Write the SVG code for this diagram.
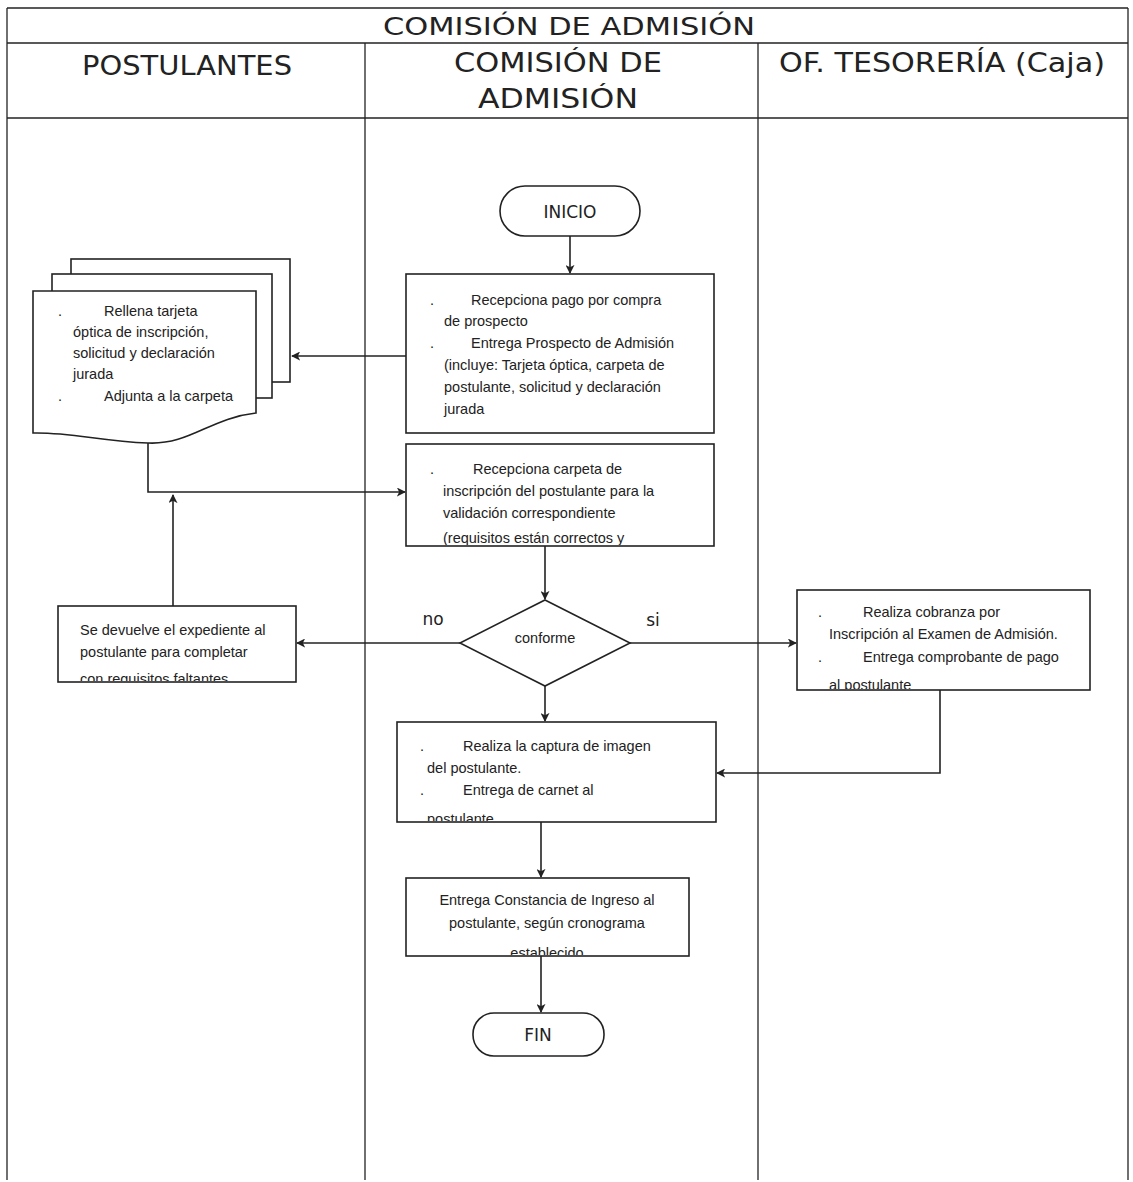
<svg xmlns="http://www.w3.org/2000/svg" width="1133" height="1182" viewBox="0 0 1133 1182">
  <style>
    .frame { fill: none; stroke: #222; stroke-width: 1.3; }
    .box { fill: #fff; stroke: #222; stroke-width: 1.6; }
    .edge { fill: none; stroke: #222; stroke-width: 1.6; }
    .hdr { font-family: "DejaVu Sans", "Liberation Sans", sans-serif; font-size: 27px; fill: #222; }
    .ttl { font-family: "DejaVu Sans", "Liberation Sans", sans-serif; font-size: 24px; fill: #222; }
    .t { font-family: "Liberation Sans", Arial, sans-serif; font-size: 14.5px; fill: #222; }
    .lbl { font-family: "DejaVu Sans", "Liberation Sans", sans-serif; font-size: 17px; fill: #222; }
  </style>
  <defs>
    <marker id="arr" viewBox="0 0 10 10" refX="9" refY="5" markerWidth="9" markerHeight="9" markerUnits="userSpaceOnUse" orient="auto">
      <path d="M0,0 L10,5 L0,10 L2.5,5 Z" fill="#222"/>
    </marker>
    <clipPath id="c2"><rect x="406" y="444" width="308" height="101"/></clipPath>
    <clipPath id="cdev"><rect x="58" y="606" width="238" height="75"/></clipPath>
    <clipPath id="ccob"><rect x="797" y="590" width="293" height="99"/></clipPath>
    <clipPath id="c3"><rect x="397" y="722" width="319" height="99"/></clipPath>
    <clipPath id="c4"><rect x="406" y="878" width="283" height="77"/></clipPath>
  </defs>

  <rect width="1133" height="1182" fill="#fff"/>

  <!-- swimlane frame -->
  <g id="lanes">
    <line class="frame" x1="7" y1="8" x2="1128" y2="8"/>
    <line class="frame" x1="7" y1="43" x2="1128" y2="43"/>
    <line class="frame" x1="7" y1="118" x2="1128" y2="118"/>
    <line class="frame" x1="7" y1="8" x2="7" y2="1180"/>
    <line class="frame" x1="1128" y1="8" x2="1128" y2="1180"/>
    <line class="frame" x1="365" y1="43" x2="365" y2="1180"/>
    <line class="frame" x1="758" y1="43" x2="758" y2="1180"/>
    <text class="ttl" x="569" y="35" text-anchor="middle" textLength="372" lengthAdjust="spacingAndGlyphs">COMISIÓN DE ADMISIÓN</text>
    <text class="hdr" x="187" y="75" text-anchor="middle" textLength="210" lengthAdjust="spacingAndGlyphs">POSTULANTES</text>
    <text class="hdr" x="558" y="72" text-anchor="middle" textLength="208" lengthAdjust="spacingAndGlyphs">COMISIÓN DE</text>
    <text class="hdr" x="558" y="108" text-anchor="middle" textLength="160" lengthAdjust="spacingAndGlyphs">ADMISIÓN</text>
    <text class="hdr" x="942" y="72" text-anchor="middle" textLength="326" lengthAdjust="spacingAndGlyphs">OF. TESORERÍA (Caja)</text>
  </g>

  <!-- connectors -->
  <g id="connectors">
    <line class="edge" x1="570" y1="236" x2="570" y2="273" marker-end="url(#arr)"/>
    <line class="edge" x1="406" y1="356" x2="292" y2="356" marker-end="url(#arr)"/>
    <polyline class="edge" points="148,443 148,492 405,492" marker-end="url(#arr)"/>
    <line class="edge" x1="173" y1="606" x2="173" y2="495" marker-end="url(#arr)"/>
    <line class="edge" x1="545" y1="546" x2="545" y2="599" marker-end="url(#arr)"/>
    <line class="edge" x1="460" y1="643" x2="297" y2="643" marker-end="url(#arr)"/>
    <line class="edge" x1="630" y1="643" x2="796" y2="643" marker-end="url(#arr)"/>
    <line class="edge" x1="545" y1="686" x2="545" y2="721" marker-end="url(#arr)"/>
    <polyline class="edge" points="940,690 940,773 717,773" marker-end="url(#arr)"/>
    <line class="edge" x1="541" y1="822" x2="541" y2="877" marker-end="url(#arr)"/>
    <line class="edge" x1="541" y1="956" x2="541" y2="1012" marker-end="url(#arr)"/>
    <text class="lbl" x="433" y="625" text-anchor="middle">no</text>
    <text class="lbl" x="653" y="626" text-anchor="middle">si</text>
  </g>

  <g id="inicio">
    <rect class="box" x="500" y="186" width="140" height="50" rx="25"/>
    <text class="lbl" x="570" y="218" text-anchor="middle">INICIO</text>
  </g>

  <g id="recepciona-pago">
    <rect class="box" x="406" y="274" width="308" height="159"/>
    <text class="t" x="430" y="305">.</text>
    <text class="t" x="471" y="305">Recepciona pago por compra</text>
    <text class="t" x="444" y="326">de prospecto</text>
    <text class="t" x="430" y="348">.</text>
    <text class="t" x="471" y="348">Entrega Prospecto de Admisión</text>
    <text class="t" x="444" y="370">(incluye: Tarjeta óptica, carpeta de</text>
    <text class="t" x="444" y="392">postulante, solicitud y declaración</text>
    <text class="t" x="444" y="414">jurada</text>
  </g>

  <g id="rellena-tarjeta">
    <rect class="box" x="71" y="259" width="219" height="123"/>
    <rect class="box" x="52" y="274" width="220" height="124"/>
    <path class="box" d="M33,291 H256 V413 C210,418 190,445 148,443 C100,441 70,432 33,433 Z"/>
    <text class="t" x="58" y="316">.</text>
    <text class="t" x="104" y="316">Rellena tarjeta</text>
    <text class="t" x="73" y="337">óptica de inscripción,</text>
    <text class="t" x="73" y="358">solicitud y declaración</text>
    <text class="t" x="73" y="379">jurada</text>
    <text class="t" x="58" y="401">.</text>
    <text class="t" x="104" y="401">Adjunta a la carpeta</text>
  </g>

  <g id="recepciona-carpeta">
    <rect class="box" x="406" y="444" width="308" height="102"/>
    <g clip-path="url(#c2)">
      <text class="t" x="430" y="474">.</text>
      <text class="t" x="473" y="474">Recepciona carpeta de</text>
      <text class="t" x="443" y="496">inscripción del postulante para la</text>
      <text class="t" x="443" y="518">validación correspondiente</text>
      <text class="t" x="443" y="543">(requisitos están correctos y</text>
    </g>
  </g>

  <g id="conforme">
    <polygon class="box" points="545,600 630,643 545,686 460,643"/>
    <text class="t" x="545" y="643" text-anchor="middle">conforme</text>
  </g>

  <g id="devuelve-expediente">
    <rect class="box" x="58" y="606" width="238" height="76"/>
    <g clip-path="url(#cdev)">
      <text class="t" x="80" y="635">Se devuelve el expediente al</text>
      <text class="t" x="80" y="657">postulante para completar</text>
      <text class="t" x="80" y="684">con requisitos faltantes</text>
    </g>
  </g>

  <g id="realiza-cobranza">
    <rect class="box" x="797" y="590" width="293" height="100"/>
    <g clip-path="url(#ccob)">
      <text class="t" x="818" y="617">.</text>
      <text class="t" x="863" y="617">Realiza cobranza  por</text>
      <text class="t" x="829" y="639">Inscripción al Examen de Admisión.</text>
      <text class="t" x="818" y="662">.</text>
      <text class="t" x="863" y="662">Entrega comprobante de pago</text>
      <text class="t" x="829" y="690">al postulante</text>
    </g>
  </g>

  <g id="captura-imagen">
    <rect class="box" x="397" y="722" width="319" height="100"/>
    <g clip-path="url(#c3)">
      <text class="t" x="420" y="751">.</text>
      <text class="t" x="463" y="751">Realiza la captura de imagen</text>
      <text class="t" x="427" y="773">del postulante.</text>
      <text class="t" x="420" y="795">.</text>
      <text class="t" x="463" y="795">Entrega de carnet  al</text>
      <text class="t" x="427" y="824">postulante</text>
    </g>
  </g>

  <g id="constancia-ingreso">
    <rect class="box" x="406" y="878" width="283" height="78"/>
    <g clip-path="url(#c4)">
      <text class="t" x="547" y="905" text-anchor="middle">Entrega Constancia de Ingreso al</text>
      <text class="t" x="547" y="928" text-anchor="middle">postulante, según cronograma</text>
      <text class="t" x="547" y="958" text-anchor="middle">establecido</text>
    </g>
  </g>

  <g id="fin">
    <rect class="box" x="473" y="1013" width="131" height="43" rx="21"/>
    <text class="lbl" x="538" y="1041" text-anchor="middle">FIN</text>
  </g>
</svg>
